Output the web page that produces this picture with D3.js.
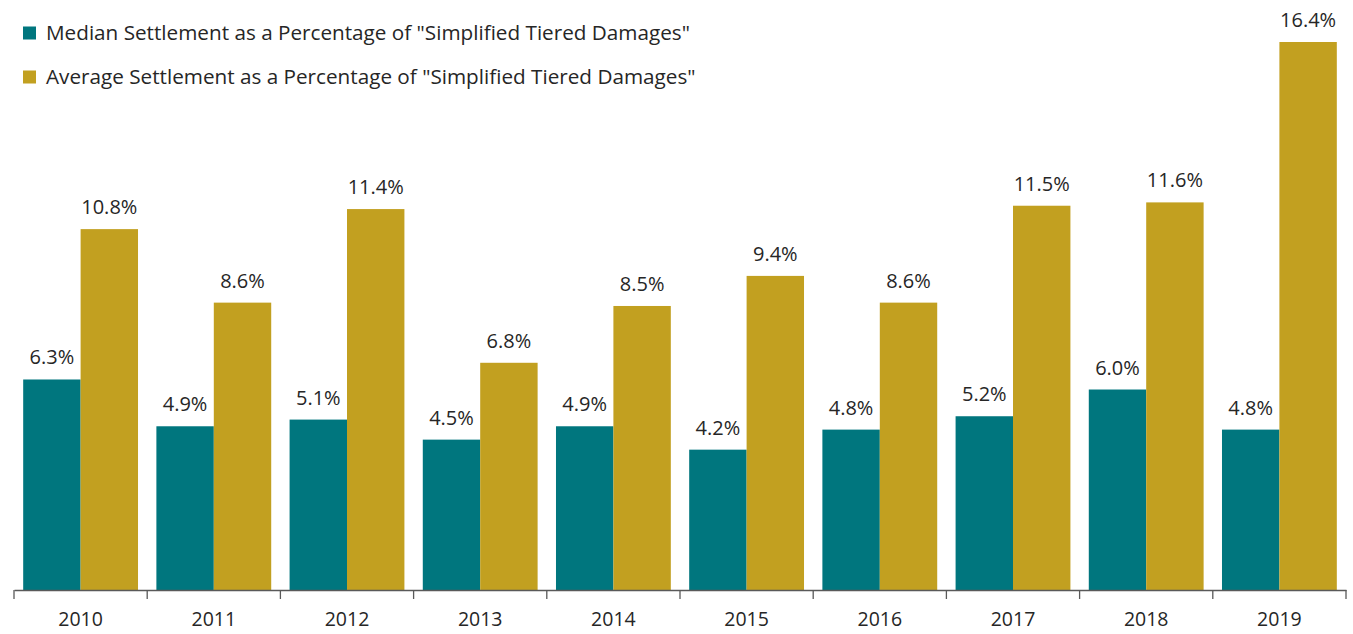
<!DOCTYPE html>
<html>
<head>
<meta charset="utf-8">
<script src="https://cdn.jsdelivr.net/npm/d3@7"></script>
<style>
  body { margin: 0; background: #fff; }
  text { font-family: "Open Sans", "Noto Sans", sans-serif; fill: #262626; }
</style>
</head>
<body>
<svg id="chart" width="1353" height="634"></svg>
<script>
const years = ['2010', '2011', '2012', '2013', '2014', '2015', '2016', '2017', '2018', '2019']
const medianPct = [6.3, 4.9, 5.1, 4.5, 4.9, 4.2, 4.8, 5.2, 6.0, 4.8]
const averagePct = [10.8, 8.6, 11.4, 6.8, 8.5, 9.4, 8.6, 11.5, 11.6, 16.4]
const seriesNames = [
    'Median Settlement as a Percentage of "Simplified Tiered Damages"',
    'Average Settlement as a Percentage of "Simplified Tiered Damages"'
]
const colors = ['#00767e', '#c2a020']

const svg = d3.select('#chart')
const width = 1353
const height = 634
const margin = { left: 14, right: 7, top: 42, bottom: 44 }
const baseY = height - margin.bottom

const x = d3.scaleBand().domain(years).range([margin.left, width - margin.right])
    .paddingInner(0).paddingOuter(0)
const inner = d3.scaleBand().domain([0, 1]).range([0, x.bandwidth()])
    .paddingInner(0).paddingOuter(0.16)
const y = d3.scaleLinear().domain([0, d3.max(averagePct)]).range([baseY, margin.top])

const rows = years.map((yr, i) => ({ yr, vals: [medianPct[i], averagePct[i]] }))

const groups = svg.append('g')
    .selectAll('g')
    .data(rows)
    .enter()
    .append('g')
    .attr('transform', d => `translate(${x(d.yr)},0)`)

groups.selectAll('rect')
    .data(d => d.vals.map((v, s) => ({ v, s })))
    .enter()
    .append('rect')
    .attr('x', d => inner(d.s))
    .attr('width', inner.bandwidth())
    .attr('y', d => y(d.v))
    .attr('height', d => baseY - y(d.v))
    .style('fill', d => colors[d.s])

groups.selectAll('text.val')
    .data(d => d.vals.map((v, s) => ({ v, s })))
    .enter()
    .append('text')
    .attr('class', 'val')
    .attr('x', d => inner(d.s) + inner.bandwidth() / 2)
    .attr('y', d => y(d.v) - 15)
    .attr('text-anchor', 'middle')
    .style('font-size', '20px')
    .text(d => d3.format('.1f')(d.v) + '%')

// x axis
const axis = svg.append('g')
    .attr('transform', `translate(0,${baseY})`)
    .call(d3.axisBottom(x).tickSize(0).tickPadding(22))
axis.select('.domain').attr('stroke', '#595959').attr('stroke-width', 1.3)
axis.selectAll('.tick text').style('font-size', '19.5px').style('fill', '#262626')
    .style('font-family', '"Open Sans", "Noto Sans", sans-serif')

const edges = years.map(yr => x(yr)).concat([x(years[years.length - 1]) + x.bandwidth()])
svg.append('g').selectAll('line')
    .data(edges)
    .enter()
    .append('line')
    .attr('x1', d => d).attr('x2', d => d)
    .attr('y1', baseY).attr('y2', baseY + 9)
    .attr('stroke', '#595959').attr('stroke-width', 1.3)

// legend
const legend = svg.append('g').selectAll('g')
    .data(seriesNames)
    .enter()
    .append('g')
    .attr('transform', (d, i) => `translate(23,${33 + i * 44})`)
legend.append('rect')
    .attr('x', 0).attr('y', -6.5).attr('width', 13).attr('height', 13)
    .style('fill', (d, i) => colors[i])
legend.append('text')
    .attr('x', 23).attr('y', 0).attr('dy', '0.35em')
    .style('font-size', '20.7px')
    .text(d => d)
</script>
</body>
</html>
